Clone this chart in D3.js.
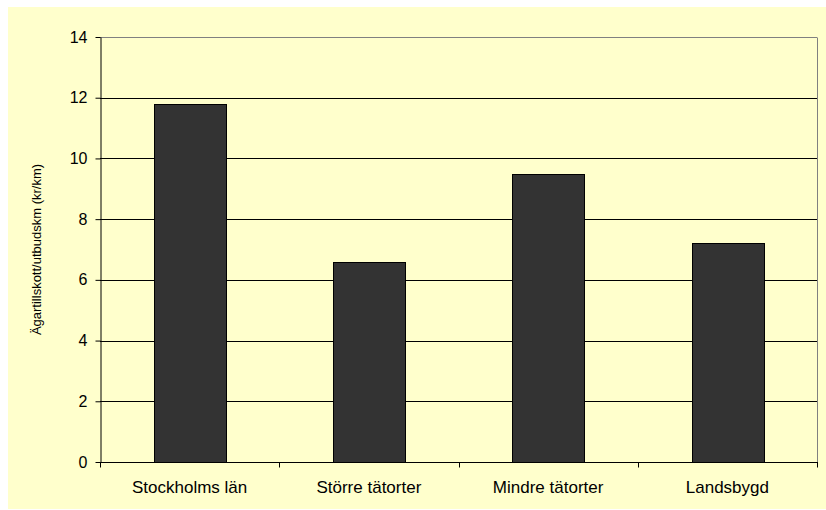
<!DOCTYPE html>
<html>
<head>
<meta charset="utf-8">
<script src="https://cdn.jsdelivr.net/npm/d3@7"></script>
<style>
  html, body { margin: 0; padding: 0; background: #ffffff; }
  svg { display: block; }
  text { font-family: "Liberation Sans", Arial, sans-serif; fill: #000; }
</style>
</head>
<body>
<svg id="chart" width="826" height="510"></svg>
<script>
// Owner contribution per service-km, by region type
const categories = ["Stockholms län", "Större tätorter", "Mindre tätorter", "Landsbygd"];
const values = [11.8, 6.6, 9.5, 7.2];
const yTicks = [0, 2, 4, 6, 8, 10, 12, 14];
const yTitle = "Ägartillskott/utbudskm (kr/km)";

const svg = d3.select("#chart");
const W = 826, H = 510;
const plot = { left: 100, right: 817, top: 37, bottom: 462 };

// chart background
svg.append("rect")
  .attr("x", 8).attr("y", 7)
  .attr("width", W - 8).attr("height", H - 8)
  .attr("fill", "#ffffcc");

const x = d3.scaleBand()
  .domain(categories)
  .range([plot.left, plot.right])
  .paddingInner(0).paddingOuter(0);

const y = d3.scaleLinear()
  .domain([0, 14])
  .range([plot.bottom, plot.top]);

// horizontal gridlines
svg.append("g")
  .selectAll("line")
  .data(yTicks.filter(t => t > 0))
  .join("line")
  .attr("x1", plot.left).attr("x2", plot.right)
  .attr("y1", d => Math.round(y(d)) + 0.5)
  .attr("y2", d => Math.round(y(d)) + 0.5)
  .attr("stroke", d => d === 14 ? "#808080" : "#000")
  .attr("stroke-width", 1);

// right border of plot area
svg.append("line")
  .attr("x1", plot.right + 0.5).attr("x2", plot.right + 0.5)
  .attr("y1", Math.round(y(14)) + 0.5).attr("y2", plot.bottom)
  .attr("stroke", "#808080");

// bars
const barFrac = 0.4;
svg.append("g")
  .selectAll("rect")
  .data(values)
  .join("rect")
  .attr("x", (d, i) => Math.round(x(categories[i]) + x.bandwidth() * (1 - barFrac) / 2) + 0.5)
  .attr("y", d => Math.round(y(d)) + 0.5)
  .attr("width", Math.round(x.bandwidth() * barFrac))
  .attr("height", d => Math.round(y(0)) - Math.round(y(d)))
  .attr("fill", "#333333")
  .attr("stroke", "#000")
  .attr("stroke-width", 1);

// y axis
const yAxis = d3.axisLeft(y)
  .tickValues(yTicks)
  .tickFormat(d3.format("d"))
  .tickSize(5)
  .tickSizeOuter(0)
  .tickPadding(8);
const gy = svg.append("g")
  .attr("transform", `translate(${plot.left + 0.5},0)`)
  .call(yAxis);
gy.selectAll("text").style("font-size", "16px").attr("font-family", null);
gy.select(".domain").attr("stroke", "#000");
gy.selectAll(".tick line").attr("stroke", "#000");

// x axis: ticks at category boundaries
const gx = svg.append("g")
  .attr("transform", `translate(0,${Math.round(plot.bottom) + 0.5})`);
gx.append("line")
  .attr("x1", plot.left).attr("x2", plot.right + 1)
  .attr("stroke", "#000");
gx.selectAll("line.bound")
  .data(d3.range(categories.length + 1))
  .join("line")
  .attr("class", "bound")
  .attr("x1", i => Math.round(plot.left + i * x.step()) + 0.5)
  .attr("x2", i => Math.round(plot.left + i * x.step()) + 0.5)
  .attr("y1", 0).attr("y2", 5)
  .attr("stroke", "#000");
gx.selectAll("text")
  .data(categories)
  .join("text")
  .attr("x", d => x(d) + x.bandwidth() / 2)
  .attr("y", 30.5)
  .attr("text-anchor", "middle")
  .style("font-size", "17px")
  .text(d => d);

// y axis title
svg.append("text")
  .attr("transform", `translate(41,${(plot.top + plot.bottom) / 2}) rotate(-90)`)
  .attr("text-anchor", "middle")
  .style("font-size", "13px")
  .text(yTitle);
</script>
</body>
</html>
